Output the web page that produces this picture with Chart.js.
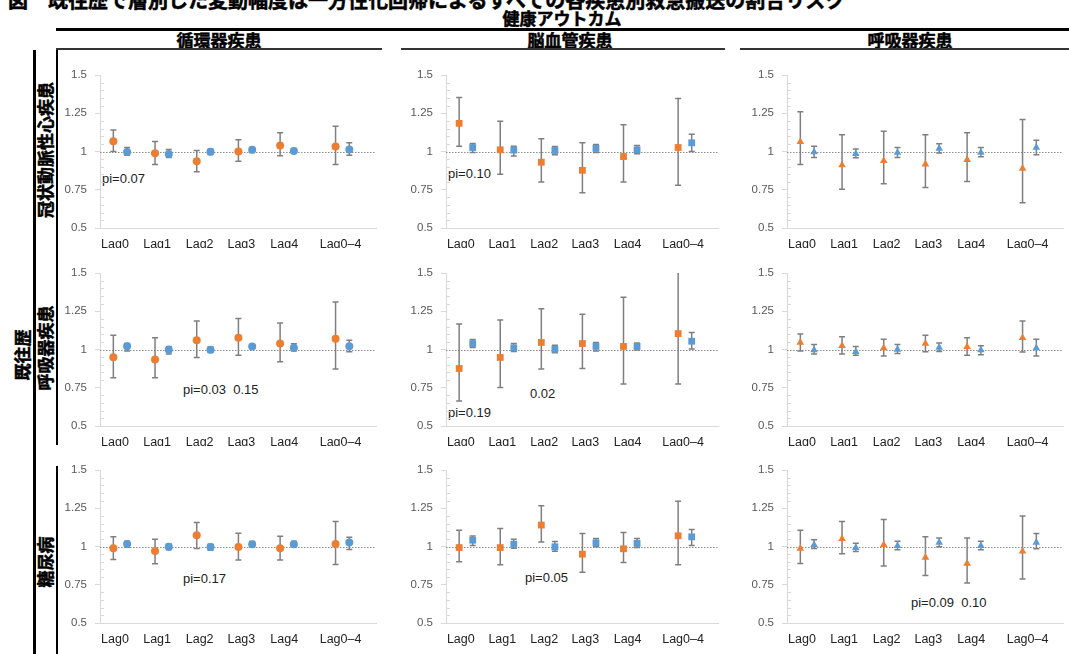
<!DOCTYPE html>
<html lang="ja">
<head>
<meta charset="utf-8">
<script src="https://cdn.jsdelivr.net/npm/chart.js@4.4.1/dist/chart.umd.min.js"></script>
<style>
  body { margin: 0; background: #fff; }
  #fig { position: relative; width: 1069px; height: 654px; overflow: hidden; font-family: 'Noto Sans CJK JP', sans-serif; }
  .lbl { position: absolute; font-weight: bold; font-size: 17px; line-height: 17px; white-space: nowrap; color: #000; -webkit-text-stroke: 0.5px #000; }
  .ctr { transform: translate(-50%, -50%); }
  .rot { transform: translate(-50%, -50%) rotate(-90deg); }
  .rule { position: absolute; background: #000; }
  .note { position: absolute; font: 13px 'Liberation Sans', Arial, sans-serif; color: #222; transform: translateY(-50%); white-space: pre; }
  canvas { position: absolute; }
</style>
</head>
<body>
<div id="fig">
  <div class="lbl" style="left:8px; top:-10px; font-size:20px; line-height:20px;">図　既往歴で層別した変動幅度は一方性化回帰によるすべての各疾患別救急搬送の割合リスク</div>
  <div class="lbl ctr" style="left:562px; top:17px;">健康アウトカム</div>
  <div class="rule" style="left:56px; top:28px; width:1013px; height:2.5px;"></div>
  <div class="lbl ctr" style="left:219px; top:39px;">循環器疾患</div>
  <div class="lbl ctr" style="left:570px; top:39px;">脳血管疾患</div>
  <div class="lbl ctr" style="left:910px; top:39px;">呼吸器疾患</div>
  <div class="rule" style="left:56px; top:48px; width:326px; height:1.5px; background:#333;"></div>
  <div class="rule" style="left:401px; top:48px; width:324px; height:1.5px; background:#333;"></div>
  <div class="rule" style="left:740px; top:48px; width:329px; height:1.5px; background:#333;"></div>

  <div class="rule" style="left:33px; top:50px; width:2.5px; height:604px;"></div>
  <div class="rule" style="left:56px; top:50px; width:2px; height:395px;"></div>
  <div class="rule" style="left:56px; top:466px; width:2px; height:188px;"></div>
  <div class="lbl rot" style="left:21px; top:355px;">既往歴</div>
  <div class="lbl rot" style="left:44px; top:150px;">冠状動脈性心疾患</div>
  <div class="lbl rot" style="left:44px; top:348px;">呼吸器疾患</div>
  <div class="lbl rot" style="left:44px; top:562px;">糖尿病</div>

  <div class="note" style="left:102px; top:178px;">pi=0.07</div>
  <div class="note" style="left:448px; top:173px;">pi=0.10</div>
  <div class="note" style="left:183px; top:389px;">pi=0.03  0.15</div>
  <div class="note" style="left:530px; top:393px;">0.02</div>
  <div class="note" style="left:448px; top:412px;">pi=0.19</div>
  <div class="note" style="left:183px; top:578px;">pi=0.17</div>
  <div class="note" style="left:525px; top:577px;">pi=0.05</div>
  <div class="note" style="left:911px; top:602px;">pi=0.09  0.10</div>
</div>
<script>
const lagLabels = ['Lag0', 'Lag1', 'Lag2', 'Lag3', 'Lag4', 'Lag0–4'];
const yTicks = [0.5, 0.75, 1, 1.25, 1.5];
const seriesNames = ['既往歴あり', '既往歴なし'];

// 冠状動脈性心疾患 × 循環器疾患
const chdCircOEst = [1.067, 0.989, 0.937, 1.000, 1.039, 1.033];
const chdCircOLo  = [1.000, 0.915, 0.867, 0.937, 0.972, 0.915];
const chdCircOHi  = [1.141, 1.065, 1.007, 1.076, 1.122, 1.165];
const chdCircBEst = [0.996, 0.983, 0.998, 1.011, 1.004, 1.013];
const chdCircBLo  = [0.975, 0.960, 0.980, 0.994, 0.990, 0.976];
const chdCircBHi  = [1.026, 1.013, 1.015, 1.026, 1.020, 1.057];

// 冠状動脈性心疾患 × 脳血管疾患
const chdStrkOEst = [1.184, 1.011, 0.930, 0.877, 0.967, 1.026];
const chdStrkOLo  = [1.035, 0.851, 0.800, 0.730, 0.800, 0.780];
const chdStrkOHi  = [1.353, 1.197, 1.083, 1.057, 1.175, 1.346];
const chdStrkBEst = [1.026, 1.009, 1.007, 1.020, 1.011, 1.057];
const chdStrkBLo  = [0.993, 0.971, 0.978, 0.993, 0.985, 1.000];
const chdStrkBHi  = [1.053, 1.035, 1.033, 1.046, 1.040, 1.112];

// 冠状動脈性心疾患 × 呼吸器疾患
const chdRespOEst = [1.063, 0.911, 0.939, 0.917, 0.946, 0.889];
const chdRespOLo  = [0.915, 0.754, 0.789, 0.765, 0.804, 0.665];
const chdRespOHi  = [1.259, 1.109, 1.133, 1.109, 1.122, 1.209];
const chdRespBEst = [0.996, 0.985, 0.993, 1.020, 0.993, 1.026];
const chdRespBLo  = [0.960, 0.959, 0.960, 0.990, 0.965, 0.978];
const chdRespBHi  = [1.035, 1.017, 1.026, 1.050, 1.026, 1.074];

// 呼吸器疾患 × 循環器疾患
const resCircOEst = [0.950, 0.935, 1.061, 1.076, 1.039, 1.070];
const resCircOLo  = [0.815, 0.815, 0.948, 0.963, 0.920, 0.872];
const resCircOHi  = [1.093, 1.076, 1.187, 1.202, 1.174, 1.311];
const resCircBEst = [1.022, 0.998, 0.998, 1.020, 1.011, 1.022];
const resCircBLo  = [0.990, 0.970, 0.980, 1.007, 0.991, 0.985];
const resCircBHi  = [1.040, 1.020, 1.017, 1.033, 1.037, 1.061];

// 呼吸器疾患 × 脳血管疾患
const resStrkOEst = [0.876, 0.948, 1.046, 1.039, 1.020, 1.104];
const resStrkOLo  = [0.663, 0.752, 0.872, 0.876, 0.774, 0.774];
const resStrkOHi  = [1.167, 1.193, 1.267, 1.230, 1.341, 1.520];
const resStrkBEst = [1.039, 1.011, 1.002, 1.020, 1.020, 1.054];
const resStrkBLo  = [1.013, 0.987, 0.978, 0.991, 0.996, 1.004];
const resStrkBHi  = [1.065, 1.040, 1.028, 1.046, 1.043, 1.111];

// 呼吸器疾患 × 呼吸器疾患
const resRespOEst = [1.046, 1.024, 1.009, 1.039, 1.017, 1.076];
const resRespOLo  = [0.991, 0.970, 0.957, 0.985, 0.963, 0.983];
const resRespOHi  = [1.102, 1.083, 1.067, 1.093, 1.076, 1.187];
const resRespBEst = [0.996, 0.985, 1.000, 1.013, 0.996, 1.009];
const resRespBLo  = [0.970, 0.963, 0.974, 0.987, 0.965, 0.957];
const resRespBHi  = [1.033, 1.020, 1.033, 1.043, 1.024, 1.067];

// 糖尿病 × 循環器疾患
const dmCircOEst = [0.989, 0.970, 1.074, 0.996, 0.989, 1.017];
const dmCircOLo  = [0.915, 0.887, 0.987, 0.911, 0.911, 0.883];
const dmCircOHi  = [1.063, 1.048, 1.157, 1.087, 1.067, 1.163];
const dmCircBEst = [1.017, 0.998, 0.996, 1.015, 1.015, 1.026];
const dmCircBLo  = [0.996, 0.978, 0.976, 0.996, 0.998, 0.980];
const dmCircBHi  = [1.035, 1.017, 1.015, 1.033, 1.035, 1.061];

// 糖尿病 × 脳血管疾患
const dmStrkOEst = [0.993, 0.993, 1.140, 0.950, 0.985, 1.070];
const dmStrkOLo  = [0.900, 0.880, 1.030, 0.832, 0.895, 0.880];
const dmStrkOHi  = [1.107, 1.118, 1.266, 1.085, 1.092, 1.295];
const dmStrkBEst = [1.041, 1.015, 0.998, 1.024, 1.020, 1.063];
const dmStrkBLo  = [1.007, 0.989, 0.969, 0.998, 0.993, 1.007];
const dmStrkBHi  = [1.068, 1.048, 1.033, 1.052, 1.052, 1.111];

// 糖尿病 × 呼吸器疾患
const dmRespOEst = [0.987, 1.050, 1.011, 0.928, 0.889, 0.969];
const dmRespOLo  = [0.889, 0.952, 0.873, 0.810, 0.762, 0.788];
const dmRespOHi  = [1.107, 1.164, 1.177, 1.063, 1.055, 1.199];
const dmRespBEst = [1.011, 0.991, 1.004, 1.026, 1.004, 1.026];
const dmRespBLo  = [0.987, 0.967, 0.978, 0.998, 0.978, 0.985];
const dmRespBHi  = [1.044, 1.022, 1.035, 1.055, 1.035, 1.085];

// layout of the 3x3 grid
const lagSlots = [0, 1, 2, 3, 4, 5.33];
const tickSlots = [0.04, 1.05, 2.07, 3.07, 4.1, 5.45];
const blueShift = 0.33;
const colAxisX = [100, 446, 787];
const colPlotW = [276, 272, 276];
const rowTop = [75, 273, 470];
const rowLabelSpace = [20, 20, 30];
// PAD_TOP has to beat the y axis' own top padding (half a label + tick padding)
const PLOT_H = 153, Y_AXIS_W = 45, PAD_TOP = 16, PAD_RIGHT = 5;
const markerStyles = ['circle', 'rect', 'triangle'];
const markerRadius = [4, 4.8, 4.4];
const ORANGE = '#ED7D31', BLUE = '#5B9BD5';

const panels = [
    { row: 0, col: 0, o: [chdCircOEst, chdCircOLo, chdCircOHi], b: [chdCircBEst, chdCircBLo, chdCircBHi] },
    { row: 0, col: 1, o: [chdStrkOEst, chdStrkOLo, chdStrkOHi], b: [chdStrkBEst, chdStrkBLo, chdStrkBHi] },
    { row: 0, col: 2, o: [chdRespOEst, chdRespOLo, chdRespOHi], b: [chdRespBEst, chdRespBLo, chdRespBHi] },
    { row: 1, col: 0, o: [resCircOEst, resCircOLo, resCircOHi], b: [resCircBEst, resCircBLo, resCircBHi] },
    { row: 1, col: 1, o: [resStrkOEst, resStrkOLo, resStrkOHi], b: [resStrkBEst, resStrkBLo, resStrkBHi] },
    { row: 1, col: 2, o: [resRespOEst, resRespOLo, resRespOHi], b: [resRespBEst, resRespBLo, resRespBHi] },
    { row: 2, col: 0, o: [dmCircOEst, dmCircOLo, dmCircOHi], b: [dmCircBEst, dmCircBLo, dmCircBHi] },
    { row: 2, col: 1, o: [dmStrkOEst, dmStrkOLo, dmStrkOHi], b: [dmStrkBEst, dmStrkBLo, dmStrkBHi] },
    { row: 2, col: 2, o: [dmRespOEst, dmRespOLo, dmRespOHi], b: [dmRespBEst, dmRespBLo, dmRespBHi] }
];

function toPoints([est, lo, hi], shift) {
    return est.map((v, i) => ({ x: lagSlots[i] + shift, y: v, lo: lo[i], hi: hi[i] }));
}

// dotted line at 1, minor ticks on the y axis, and the CI whiskers
const panelDecor = {
    id: 'panelDecor',
    beforeDatasetsDraw(chart) {
        const { ctx, chartArea: a, scales: { x, y } } = chart;
        ctx.save();

        ctx.strokeStyle = '#d9d9d9';
        ctx.lineWidth = 1;
        for (let k = 1; k < 20; k++) {
            if (k % 5 === 0) continue;
            const py = Math.round(y.getPixelForValue(0.5 + k * 0.05)) + 0.5;
            ctx.beginPath();
            ctx.moveTo(a.left, py);
            ctx.lineTo(a.left + 4, py);
            ctx.stroke();
        }

        const y1 = Math.round(y.getPixelForValue(1)) + 0.5;
        ctx.strokeStyle = '#8c8c8c';
        ctx.setLineDash([1.5, 1.5]);
        ctx.beginPath();
        ctx.moveTo(a.left, y1);
        ctx.lineTo(a.right, y1);
        ctx.stroke();
        ctx.setLineDash([]);

        ctx.beginPath();
        ctx.rect(a.left, a.top, a.right - a.left, a.bottom - a.top);
        ctx.clip();
        ctx.strokeStyle = '#7f7f7f';
        ctx.lineWidth = 1.5;
        chart.data.datasets.forEach(ds => {
            ds.data.forEach(p => {
                const px = x.getPixelForValue(p.x);
                const pLo = y.getPixelForValue(p.lo);
                const pHi = y.getPixelForValue(p.hi);
                ctx.beginPath();
                ctx.moveTo(px, pLo);
                ctx.lineTo(px, pHi);
                ctx.moveTo(px - 3, pLo);
                ctx.lineTo(px + 3, pLo);
                ctx.moveTo(px - 3, pHi);
                ctx.lineTo(px + 3, pHi);
                ctx.stroke();
            });
        });
        ctx.restore();
    }
};

const fig = document.getElementById('fig');

panels.forEach(p => {
    const canvas = document.createElement('canvas');
    const w = Y_AXIS_W + colPlotW[p.col] + PAD_RIGHT;
    const h = PAD_TOP + PLOT_H + rowLabelSpace[p.row];
    canvas.width = w;
    canvas.height = h;
    canvas.style.left = (colAxisX[p.col] - Y_AXIS_W) + 'px';
    canvas.style.top = (rowTop[p.row] - PAD_TOP) + 'px';
    fig.appendChild(canvas);

    const style = markerStyles[p.col];
    const radius = markerRadius[p.col];

    new Chart(canvas.getContext('2d'), {
        type: 'scatter',
        data: {
            datasets: [
                {
                    label: seriesNames[0],
                    data: toPoints(p.o, 0),
                    pointStyle: style,
                    pointRadius: radius,
                    backgroundColor: ORANGE,
                    borderColor: ORANGE,
                    borderWidth: 0
                },
                {
                    label: seriesNames[1],
                    data: toPoints(p.b, blueShift),
                    pointStyle: style,
                    pointRadius: radius,
                    backgroundColor: BLUE,
                    borderColor: BLUE,
                    borderWidth: 0
                }
            ]
        },
        options: {
            responsive: false,
            animation: false,
            events: [],
            layout: { padding: { top: PAD_TOP, right: PAD_RIGHT, left: 0, bottom: 0 } },
            plugins: { legend: { display: false }, tooltip: { enabled: false } },
            scales: {
                x: {
                    type: 'linear',
                    bounds: 'data',
                    min: -0.32,
                    max: 6.3,
                    afterBuildTicks: scale => { scale.ticks = tickSlots.map(v => ({ value: v })); },
                    afterFit: scale => { scale.height = rowLabelSpace[p.row]; },
                    grid: { display: true, drawOnChartArea: false, drawTicks: false },
                    border: { display: true, color: '#d9d9d9', width: 1 },
                    ticks: {
                        autoSkip: false,
                        maxRotation: 0,
                        padding: 9,
                        color: '#222',
                        font: { family: "'Liberation Sans', Arial, sans-serif", size: 12.5 },
                        callback: (v, i) => lagLabels[i]
                    }
                },
                y: {
                    min: 0.5,
                    max: 1.5,
                    afterBuildTicks: scale => { scale.ticks = yTicks.map(v => ({ value: v })); },
                    afterFit: scale => { scale.width = Y_AXIS_W; },
                    grid: { display: true, drawOnChartArea: false, drawTicks: true, tickLength: 5, color: '#d9d9d9' },
                    border: { display: true, color: '#d9d9d9', width: 1 },
                    ticks: {
                        padding: 8,
                        color: '#595959',
                        font: { family: "'Liberation Sans', Arial, sans-serif", size: 11.5 },
                        callback: v => String(v)
                    }
                }
            }
        },
        plugins: [panelDecor]
    });
});
</script>
</body>
</html>
